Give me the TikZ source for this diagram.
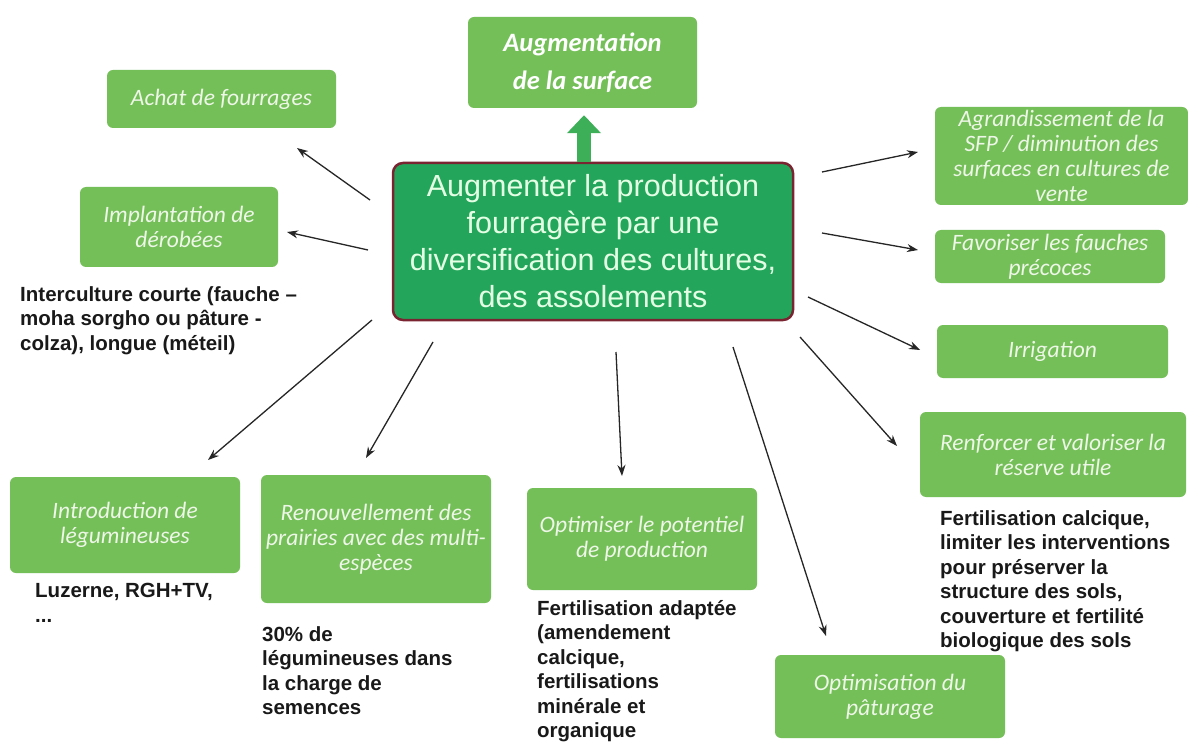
\documentclass[tikz,border=0pt]{standalone}
\usepackage{fontspec}
\setmainfont{Liberation Sans}
\newfontfamily\boxfont{Carlito}
\usetikzlibrary{arrows.meta,calc}
\definecolor{boxgreen}{HTML}{74BF58}
\definecolor{maingreen}{HTML}{23A65B}
\definecolor{mainborder}{HTML}{7A2432}
\definecolor{boxtext}{HTML}{EEF6E8}
\definecolor{arrowgreen}{HTML}{3DAF58}
\begin{document}
\begin{tikzpicture}[x=1pt,y=-1pt,
 gbox/.style={fill=boxgreen, rounded corners=6pt, inner sep=0pt, align=center, text=boxtext, font=\boxfont\itshape\fontsize{23.5}{25}\selectfont},
 note/.style={anchor=north west, align=left, inner sep=0pt, font=\bfseries\fontsize{20.5}{24.5}\selectfont, text=black!90},
 arr/.style={-{Stealth[length=11pt,width=8pt]}, line width=1.3pt, black!85},
 bigarr/.style={-{Triangle[length=18pt,width=33pt]}, line width=14pt, arrowgreen}
]
\useasboundingbox (0,0) rectangle (1188,743);
\fill[white] (0,0) rectangle (1188,743);

% boxes
\node[gbox, minimum width=229pt, minimum height=91pt, text=white, font=\boxfont\bfseries\itshape\fontsize{26.5}{38}\selectfont] (aug) at (582.5,62.5) {Augmentation\\de la surface};
\node[gbox, minimum width=229pt, minimum height=58pt] (achat) at (221.5,99) {Achat de fourrages};
\node[gbox, minimum width=198pt, minimum height=80pt] (impl) at (179,227) {Implantation de\\dérobées};
\node[gbox, minimum width=253pt, minimum height=98pt] (agr) at (1061.5,156) {Agrandissement de la\\SFP / diminution des\\surfaces en cultures de\\vente};
\node[gbox, minimum width=230pt, minimum height=53pt] (fav) at (1050,256.5) {Favoriser les fauches\\précoces};
\node[gbox, minimum width=231pt, minimum height=53pt] (irr) at (1052.5,351.5) {Irrigation};
\node[gbox, minimum width=266pt, minimum height=85pt] (renf) at (1053,454.5) {Renforcer et valoriser la\\réserve utile};
\node[gbox, minimum width=230pt, minimum height=96pt] (intro) at (125,525) {Introduction de\\légumineuses};
\node[gbox, minimum width=230pt, minimum height=128pt] (renouv) at (376,539) {Renouvellement des\\prairies avec des multi-\\espèces};
\node[gbox, minimum width=230pt, minimum height=102pt] (optim) at (642,539) {Optimiser le potentiel\\de production};
\node[gbox, minimum width=230pt, minimum height=83pt] (patur) at (890,696.5) {Optimisation du\\pâturage};

% central box
\node[fill=maingreen, draw=mainborder, line width=2.5pt, rounded corners=10pt, minimum width=400pt, minimum height=157pt, inner sep=0pt, align=center, text=white!90!green, font=\fontsize{30.5}{37}\selectfont] (c) at (593,241.5) {Augmenter la production\\fourragère par une\\diversification des cultures,\\des assolements};

% notes
\node[note] (n1) at (20,286) {Interculture courte (fauche –\\moha sorgho ou pâture -\\colza), longue (méteil)};
\node[note] (n2) at (35,583) {Luzerne, RGH+TV,\\...};
\node[note] (n3) at (262,626) {30\% de\\légumineuses dans\\la charge de\\semences};
\node[note] (n4) at (537,600) {Fertilisation adaptée\\(amendement\\calcique,\\fertilisations\\minérale et\\organique};
\node[note] (n5) at (940,510) {Fertilisation calcique,\\limiter les interventions\\pour préserver la\\structure des sols,\\couverture et fertilité\\biologique des sols};

% big green arrow
\draw[bigarr, shorten >=7pt] ([xshift=-9pt]c.north) -- ([xshift=1.5pt]aug.south);

% connector end points
\coordinate (s1) at (370,200);  \coordinate (t1) at (297,148);
\coordinate (s2) at (368,250);  \coordinate (t2) at (287,232);
\coordinate (s3) at (372,320);  \coordinate (t3) at (208,460);
\coordinate (s4) at (433,342);  \coordinate (t4) at (366,458);
\coordinate (s5) at (616,352);  \coordinate (t5) at (622,476);
\coordinate (s6) at (733,347);  \coordinate (t6) at (826,636);
\coordinate (s7) at (800,337);  \coordinate (t7) at (897,446);
\coordinate (s8) at (808,297);  \coordinate (t8) at (920,350);
\coordinate (s9) at (822,233);  \coordinate (t9) at (918,250);
\coordinate (s10) at (822,172); \coordinate (t10) at (918,152);
\foreach \i in {1,...,10} { \draw[arr] (s\i) -- (t\i); }
\end{tikzpicture}
\end{document}
